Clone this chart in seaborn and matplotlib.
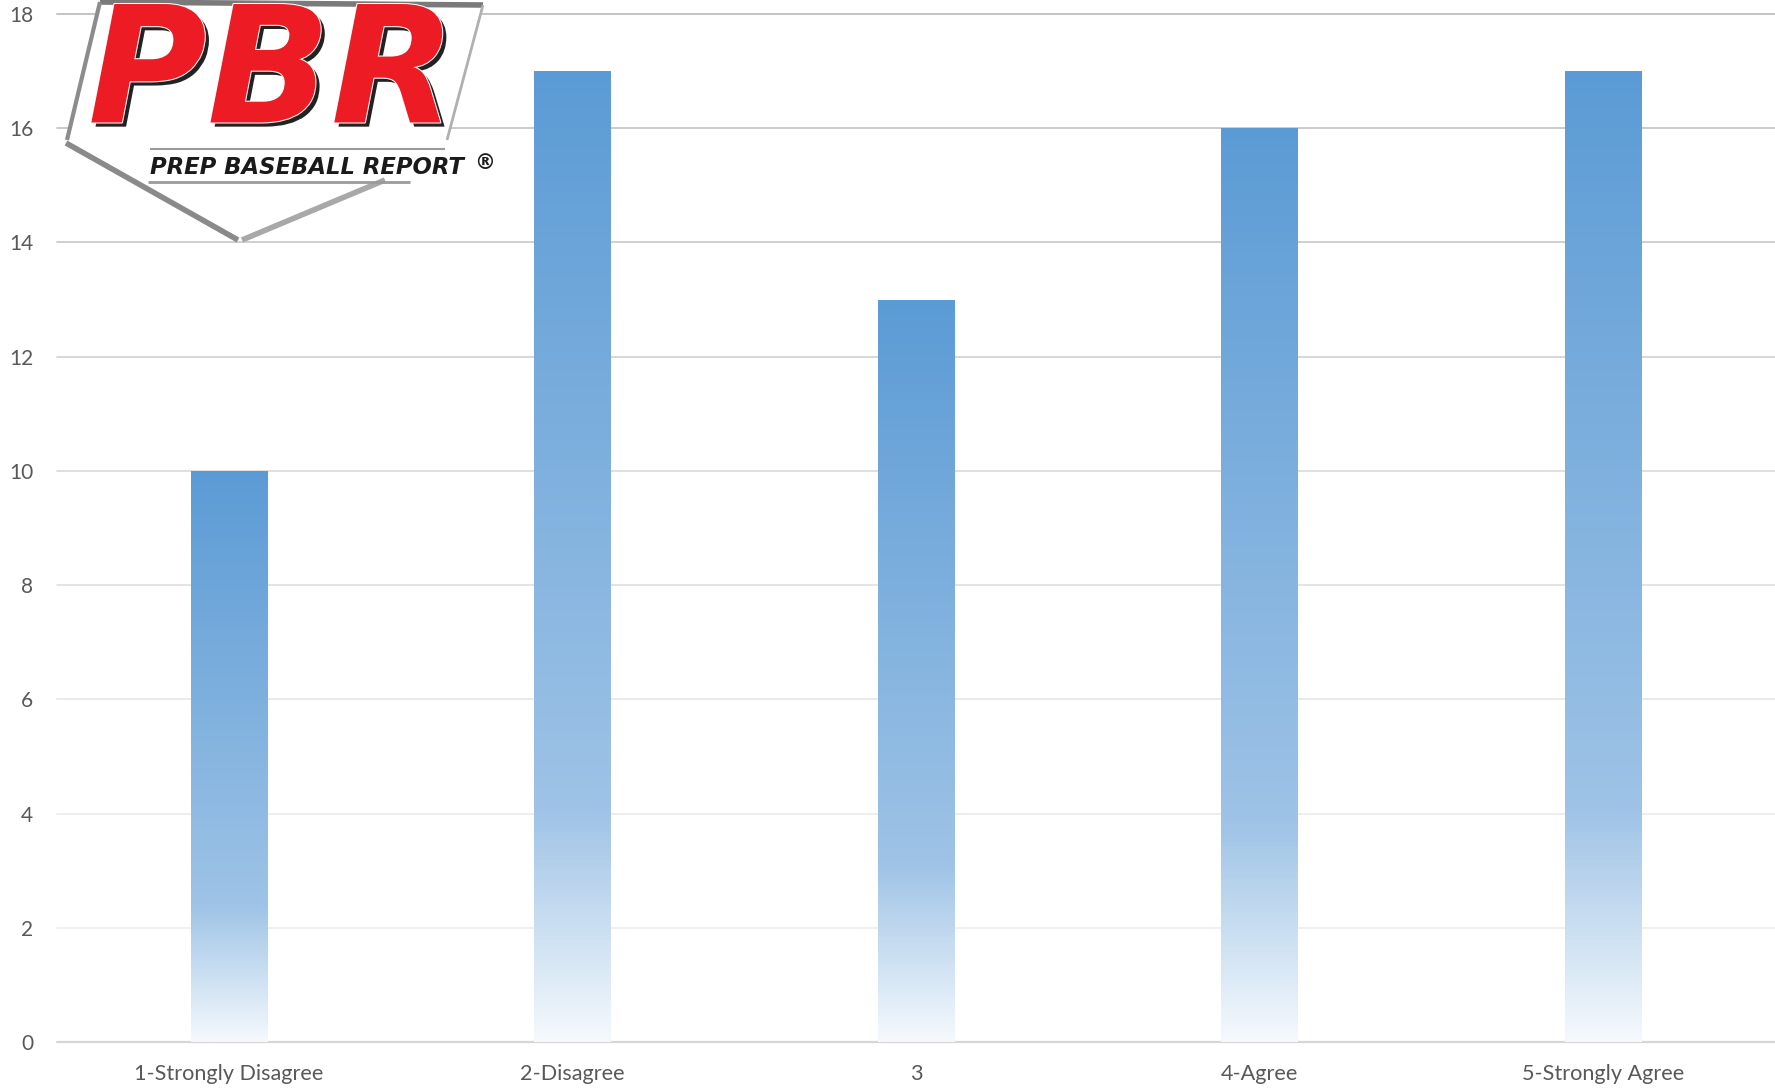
import numpy as np
import pandas as pd
import matplotlib
matplotlib.use("Agg")
import matplotlib.pyplot as plt
import seaborn as sns
from matplotlib.colors import LinearSegmentedColormap
from matplotlib.patches import Polygon
from matplotlib.lines import Line2D
import matplotlib.patheffects as pe

# Survey answers and counts
categories = ["1-Strongly Disagree", "2-Disagree", "3", "4-Agree", "5-Strongly Agree"]
counts = [10, 17, 13, 16, 17]
y_ticks = [0, 2, 4, 6, 8, 10, 12, 14, 16, 18]
# gridlines fade from darker at the top to light at the bottom
grid_colors = ["#d6d6d6", "#efefef", "#ededed", "#e8e8e8", "#e2e2e2",
               "#dcdcdc", "#d4d4d4", "#cccccc", "#c6c6c6", "#bfbfbf"]

BAR_TOP = "#5B9BD5"
bar_cmap = LinearSegmentedColormap.from_list(
    "bar_fade", [(0.0, "#F5F9FD"), (0.24, "#9EC3E6"), (1.0, BAR_TOP)])

sns.set_style("white")
plt.rcParams["font.family"] = ["Lato", "DejaVu Sans"]

df = pd.DataFrame({"answer": categories, "count": counts})

fig = plt.figure(figsize=(17.75, 10.91), dpi=100)
ax = fig.add_axes([57 / 1775, 49 / 1091, 1 - 57 / 1775, 1028 / 1091])

sns.barplot(data=df, x="answer", y="count", color=BAR_TOP, width=0.222,
            saturation=1, ax=ax, zorder=3)

# swap flat bars for vertical gradients
grad = np.linspace(0, 1, 256).reshape(-1, 1)
for p in ax.patches:
    x0, y0 = p.get_x(), p.get_y()
    w, h = p.get_width(), p.get_height()
    p.set_facecolor("none")
    p.set_edgecolor("none")
    im = ax.imshow(grad, cmap=bar_cmap, origin="lower", aspect="auto",
                   extent=[x0, x0 + w, y0, y0 + h], zorder=3)
    im.set_clip_path(p)
ax.set_xlim(-0.5, 4.5)
ax.set_ylim(0, 18)

for t, c in zip(y_ticks, grid_colors):
    ax.axhline(t, color=c, lw=1.6 if t == 0 else 1.3, zorder=1, clip_on=False)

ax.set_yticks(y_ticks)
ax.set_xlabel("")
ax.set_ylabel("")
ax.tick_params(axis="y", length=0, pad=17, labelsize=15, labelcolor="#595959")
ax.tick_params(axis="x", length=0, pad=16, labelsize=15.6, labelcolor="#595959")
sns.despine(ax=ax, left=True, bottom=True, right=True, top=True)

# PBR logo drawn on top of the plot
H = 1091
def fy(y):
    return H - y

logo_ax = fig.add_axes([0, 0, 1, 1], facecolor="none")
logo_ax.set_xlim(0, 1775)
logo_ax.set_ylim(0, H)
logo_ax.axis("off")

plate = Polygon([(100, fy(2)), (483, fy(5)), (447, fy(140)), (240, fy(240)), (66, fy(142))],
                closed=True, facecolor="white", edgecolor="none", zorder=1)
logo_ax.add_patch(plate)
for xs, ys, lw, col in [
    ([100, 483], [2, 5], 4, "#7a7a7a"),
    ([100, 67], [2, 140], 3, "#8c8c8c"),
    ([483, 447], [5, 140], 2, "#b0b0b0"),
    ([66, 238], [143, 240], 4, "#8a8a8a"),
    ([242, 385], [240, 180], 4, "#a8a8a8"),
    ([150, 445], [149, 149], 1.5, "#9a9a9a"),
    ([148, 410], [182, 182], 2, "#9a9a9a"),
]:
    logo_ax.add_line(Line2D(xs, [fy(v) for v in ys], lw=lw, color=col,
                            solid_capstyle="butt", zorder=2))

logo_ax.text(272, fy(78), "PBR", fontsize=117, fontweight="heavy", style="italic",
             family="DejaVu Sans", color="#ED1C24", ha="center", va="center", zorder=3,
             path_effects=[pe.withSimplePatchShadow(offset=(3, -3), shadow_rgbFace="#222222",
                                                    alpha=1.0),
                           pe.Stroke(linewidth=1.5, foreground="white"), pe.Normal()])
logo_ax.text(150, fy(167), "PREP BASEBALL REPORT", fontsize=16.4, fontweight="bold",
             style="italic", family="DejaVu Sans", color="#1a1a1a", ha="left", va="center",
             zorder=3)
logo_ax.text(485, fy(163), "®", fontsize=15, fontweight="bold", family="DejaVu Sans",
             color="#1a1a1a", ha="center", va="center", zorder=3)

fig.savefig("out.png", dpi=100, facecolor="white")
